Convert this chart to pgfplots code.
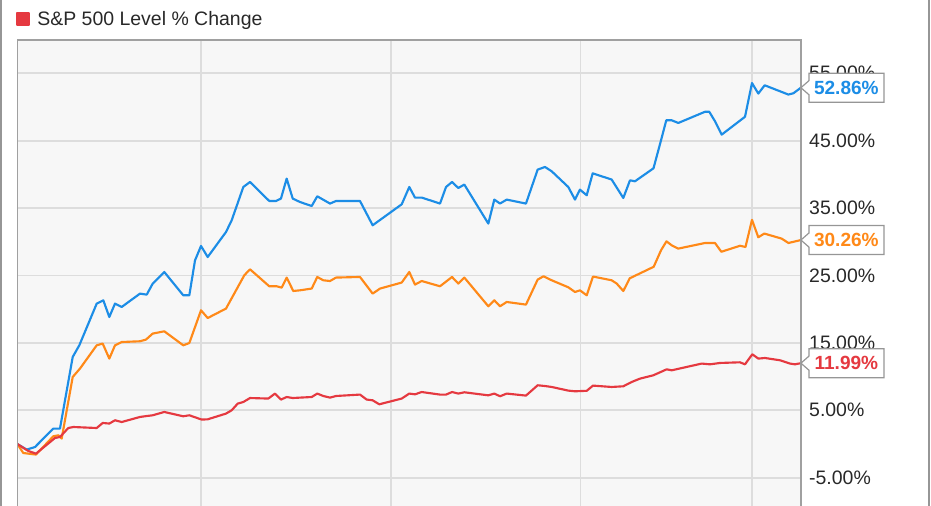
\documentclass[border=0pt]{standalone}
\usepackage{fontspec}
\setmainfont{Liberation Sans}
\usepackage{pgfplots}
\pgfplotsset{compat=1.18}
\usetikzlibrary{calc}
\definecolor{blueL}{RGB}{28,141,230}
\definecolor{orangeL}{RGB}{255,137,24}
\definecolor{redL}{RGB}{229,57,64}
\definecolor{bgc}{RGB}{247,247,247}
\definecolor{gridc}{RGB}{221,221,221}
\definecolor{framec}{RGB}{160,160,160}
\definecolor{tagc}{RGB}{150,150,150}
\definecolor{ticktext}{RGB}{40,40,40}
\definecolor{outerc}{RGB}{150,150,150}
\newcommand{\valuetag}[3]{%
  \draw[tagc, line width=0.9pt, fill=white, line join=miter]
    ($(#1)+(6pt,10.875pt)$) -- ($(#1)+(62.25pt,10.875pt)$) -- ($(#1)+(62.25pt,-10.875pt)$)
    -- ($(#1)+(6pt,-10.875pt)$) -- ($(#1)+(6pt,-5.25pt)$) -- (#1) -- ($(#1)+(6pt,5.25pt)$) -- cycle;
  \node[text=#2, font=\fontsize{14.3}{16}\selectfont\bfseries, inner sep=0pt] at ($(#1)+(34.1pt,0)$) {#3};}
\begin{document}
\begin{tikzpicture}
\useasboundingbox (0,0) rectangle (698.25pt,379.5pt);
\begin{axis}[
  name=main, at={(12.975pt,0pt)}, anchor=south west,
  scale only axis, width=587.7pt, height=349.5pt,
  xmin=0, xmax=128, ymin=-9.2, ymax=59.94,
  axis line style={draw=none},
  xtick={30,61,92,120}, xticklabels={},
  ytick={-5,5,15,25,35,45,55},
  yticklabels={-5.00\%,5.00\%,15.00\%,25.00\%,35.00\%,45.00\%,55.00\%},
  yticklabel pos=right,
  yticklabel style={anchor=west, inner sep=0pt, xshift=6pt, font=\fontsize{14.6}{17}\selectfont, text=ticktext},
  major tick length=0pt, tick style={draw=none},
  grid=major, major grid style={draw=gridc, line width=1.3pt},
  axis background/.style={fill=bgc},
  legend style={at={(axis description cs:0,1)}, anchor=west, xshift=-1pt, yshift=15.75pt,
    draw=none, fill=none, inner sep=0pt, nodes={inner sep=0pt},
    /tikz/every odd column/.append style={column sep=5.25pt},
    font=\fontsize{14.6}{17}\selectfont, text=ticktext},
  every axis plot/.append style={line width=1.6pt, line join=round},
]
\addplot[blueL, forget plot] coordinates {(0,0) (1.54,-0.83) (2.89,-0.45) (5.88,2.28) (6.97,2.28) (9.05,12.91) (10.13,14.64) (12.97,20.83) (14.05,21.32) (15.03,18.84) (15.96,20.83) (17.05,20.33) (20.04,22.31) (21.14,22.16) (22.12,23.80) (24.01,25.52) (27.11,22.06) (28.10,22.06) (29.03,27.25) (30.01,29.38) (31.10,27.74) (34.09,31.45) (35.02,33.19) (36.92,38.13) (38.01,38.87) (41.16,36.05) (42.26,36.05) (43.07,36.41) (44.00,39.38) (44.99,36.41) (46.18,35.90) (48.09,35.31) (49.00,36.75) (51.08,35.67) (52.06,36.05) (55.98,36.05) (58.05,32.45) (62.79,35.56) (64.03,38.13) (64.96,36.56) (66.06,36.56) (69.05,35.67) (70.03,38.13) (71.01,38.87) (72.04,37.98) (73.02,38.49) (76.94,32.70) (77.92,36.26) (78.85,35.67) (79.94,36.26) (83.09,35.67) (85.00,40.71) (86.20,41.10) (87.29,40.46) (90.00,38.13) (91.10,36.26) (91.91,37.74) (93.01,36.90) (93.99,40.16) (97.09,39.23) (98.99,36.50) (100.08,39.12) (100.90,38.98) (103.92,40.90) (105.15,45.06) (106.01,48.03) (106.89,48.03) (107.97,47.63) (112.33,49.29) (113.03,49.29) (113.97,47.88) (115.06,45.90) (118.87,48.55) (120.01,53.56) (121.04,51.99) (122.08,53.22) (125.94,51.85) (126.76,52.03) (128,52.86)};
\addplot[orangeL, forget plot] coordinates {(0,0) (0.98,-1.34) (3.05,-1.57) (5.88,1.14) (6.70,1.29) (7.25,0.80) (9.05,9.94) (10.24,11.19) (12.97,14.64) (13.95,14.90) (15.03,12.67) (15.96,14.64) (17.05,15.13) (20.04,15.24) (21.02,15.49) (22.12,16.38) (24.01,16.72) (27.11,14.64) (28.10,14.98) (30.01,19.84) (31.10,18.69) (34.09,20.09) (37.08,25.03) (38.01,25.92) (41.16,23.40) (42.37,23.40) (43.19,23.20) (44.00,24.69) (45.08,22.70) (46.18,22.80) (48.09,23.06) (49.00,24.78) (49.98,24.29) (51.08,24.18) (52.06,24.69) (55.98,24.78) (58.05,22.31) (59.25,23.06) (62.79,23.95) (64.03,25.52) (64.96,23.65) (66.06,24.18) (69.05,23.40) (71.01,24.78) (72.04,23.80) (73.02,24.69) (76.94,20.43) (77.92,21.32) (78.85,20.43) (79.94,21.07) (83.09,20.68) (85.00,24.39) (85.95,24.88) (87.29,24.29) (90.00,23.25) (91.10,22.55) (91.91,22.80) (93.01,22.06) (94.04,24.84) (97.09,24.29) (97.91,23.80) (98.99,22.70) (100.03,24.58) (103.95,26.29) (105.15,28.74) (106.04,30.07) (106.89,29.48) (107.97,28.99) (112.33,29.82) (113.97,29.82) (115.00,28.52) (118.05,29.41) (118.95,29.23) (120.01,33.26) (121.04,30.67) (122.02,31.22) (124.86,30.47) (125.97,29.82) (128,30.26)};
\addplot[redL, legend image code/.code={\fill[redL] (0pt,-4.5pt) rectangle (9pt,4.5pt);}] coordinates {(0,0) (1.80,-1.04) (3.05,-1.43) (6.16,0.89) (6.97,1.04) (8.33,2.37) (9.15,2.52) (12.97,2.37) (13.95,3.12) (15.03,3.03) (15.96,3.52) (17.05,3.26) (20.04,4.01) (21.14,4.15) (22.12,4.26) (24.01,4.75) (27.11,4.11) (28.10,4.26) (30.12,3.62) (31.10,3.66) (34.09,4.51) (35.02,5.00) (36.00,5.99) (36.92,6.23) (38.01,6.82) (41.00,6.74) (42.09,7.48) (43.07,6.59) (44.00,6.97) (44.99,6.82) (46.18,6.88) (48.09,6.97) (49.00,7.48) (49.98,7.12) (51.08,6.88) (52.06,7.12) (55.98,7.33) (57.07,6.59) (58.05,6.48) (59.13,5.89) (62.79,6.74) (64.03,7.48) (64.96,7.37) (66.06,7.71) (69.05,7.33) (70.03,7.33) (71.01,7.71) (72.04,7.48) (73.02,7.67) (76.94,7.22) (77.92,7.48) (78.85,7.08) (79.94,7.48) (83.09,7.18) (85.00,8.71) (86.20,8.60) (87.29,8.46) (90.00,7.92) (91.10,7.82) (93.01,7.89) (94.04,8.66) (97.09,8.46) (98.99,8.56) (100.36,9.20) (101.72,9.70) (103.89,10.19) (106.08,11.08) (106.89,10.93) (111.79,11.93) (113.15,11.82) (114.78,12.02) (118.05,12.12) (118.87,11.82) (120.06,13.31) (121.04,12.67) (122.13,12.76) (124.58,12.42) (126.22,11.93) (127.03,11.82) (128,11.99)};
\addlegendentry{S\&P 500 Level \% Change}
\coordinate (eb) at (axis cs:128,52.86);
\coordinate (eo) at (axis cs:128,30.26);
\coordinate (er) at (axis cs:128,11.99);
\end{axis}
\draw[framec, line width=1.1pt] (main.south west) -- (main.north west) -- (main.north east) -- (main.south east);
\valuetag{eb}{blueL}{52.86\%}
\valuetag{eo}{orangeL}{30.26\%}
\valuetag{er}{redL}{11.99\%}
\draw[outerc, line width=1.5pt] (0.75pt,0) -- (0.75pt,379.5pt);
\draw[outerc, line width=1.5pt] (697.1pt,0) -- (697.1pt,379.5pt);
\end{tikzpicture}
\end{document}
